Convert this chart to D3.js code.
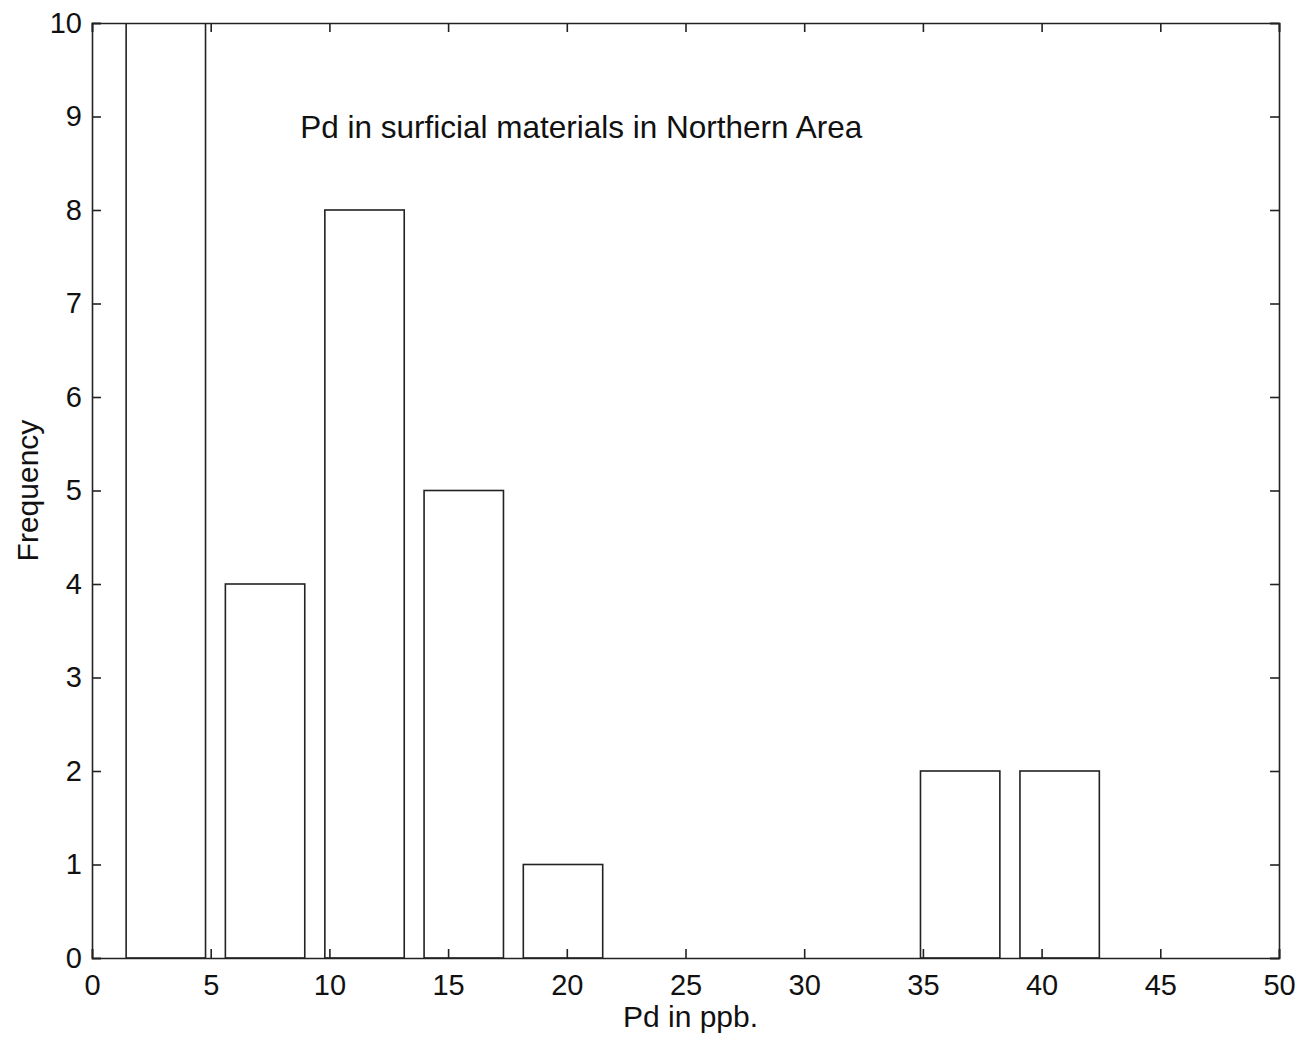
<!DOCTYPE html>
<html>
<head>
<meta charset="utf-8">
<script src="https://cdn.jsdelivr.net/npm/d3@7"></script>
<style>
  body { margin: 0; background: #fff; }
  text { font-family: "Liberation Sans", Arial, sans-serif; fill: #111; }
</style>
</head>
<body>
<div class="chart"></div>
<script>
// histogram bins (first bar runs off the top)
const binCenters = [3.11, 7.29, 11.48, 15.66, 19.84, 24.02, 28.21, 32.39, 36.57, 40.76];
const counts = [13, 4, 8, 5, 1, 0, 0, 0, 2, 2];
const xTicks = [0, 5, 10, 15, 20, 25, 30, 35, 40, 45, 50];
const yTicks = [0, 1, 2, 3, 4, 5, 6, 7, 8, 9, 10];
const title = 'Pd in surficial materials in Northern Area';

const margin = { top: 23, right: 25, bottom: 81, left: 92 };
const width = 1304 - margin.left - margin.right;
const height = 1039 - margin.top - margin.bottom;

const svg = d3.select('.chart')
  .append('svg')
  .attr('width', width + margin.left + margin.right)
  .attr('height', height + margin.top + margin.bottom)
  .append('g')
  .attr('transform', `translate(${margin.left}, ${margin.top})`);

const xScale = d3.scaleLinear().domain([0, 50]).range([0, width]);
const yScale = d3.scaleLinear().domain([0, 10]).range([height, 0]);

svg.append('clipPath').attr('id', 'plot')
  .append('rect').attr('width', width).attr('height', height);

// bar width 0.8 of bin spacing, like matlab hist
const binW = (binCenters[1] - binCenters[0]) * 0.8;

svg.append('g')
  .attr('clip-path', 'url(#plot)')
  .selectAll('rect')
  .data(counts)
  .join('rect')
  .attr('x', (d, i) => xScale(binCenters[i] - binW / 2))
  .attr('width', xScale(binW) - xScale(0))
  .attr('y', d => yScale(d))
  .attr('height', d => yScale(0) - yScale(d))
  .style('fill', 'none')
  .style('stroke', '#222')
  .style('stroke-width', 1.6);

// axes with inward ticks on all four sides
const tick = 9;
const bottomAxis = d3.axisBottom(xScale).tickValues(xTicks).tickSize(-tick).tickPadding(16);
const topAxis = d3.axisTop(xScale).tickValues(xTicks).tickSize(-tick).tickFormat('');
const leftAxis = d3.axisLeft(yScale).tickValues(yTicks).tickSize(-tick).tickPadding(10);
const rightAxis = d3.axisRight(yScale).tickValues(yTicks).tickSize(-tick).tickFormat('');

const gb = svg.append('g').attr('transform', `translate(0, ${height})`).call(bottomAxis);
const gt = svg.append('g').call(topAxis);
const gl = svg.append('g').call(leftAxis);
const gr = svg.append('g').attr('transform', `translate(${width}, 0)`).call(rightAxis);

[gb, gt, gl, gr].forEach(g => {
  g.selectAll('path, line').style('stroke', '#222').style('stroke-width', 1.6);
  g.selectAll('text')
    .style('font-family', '"Liberation Sans", Arial, sans-serif')
    .style('font-size', '29px')
    .style('fill', '#111');
});

svg.append('text')
  .attr('x', xScale(8.77))
  .attr('y', yScale(8.77))
  .style('font-size', '31.5px')
  .text(title);

svg.append('text')
  .attr('x', width / 2 + 5)
  .attr('y', height + 69)
  .attr('text-anchor', 'middle')
  .style('font-size', '30px')
  .text('Pd in ppb.');

svg.append('text')
  .attr('transform', `translate(-54, ${height / 2}) rotate(-90)`)
  .attr('text-anchor', 'middle')
  .style('font-size', '30px')
  .text('Frequency');
</script>
</body>
</html>
